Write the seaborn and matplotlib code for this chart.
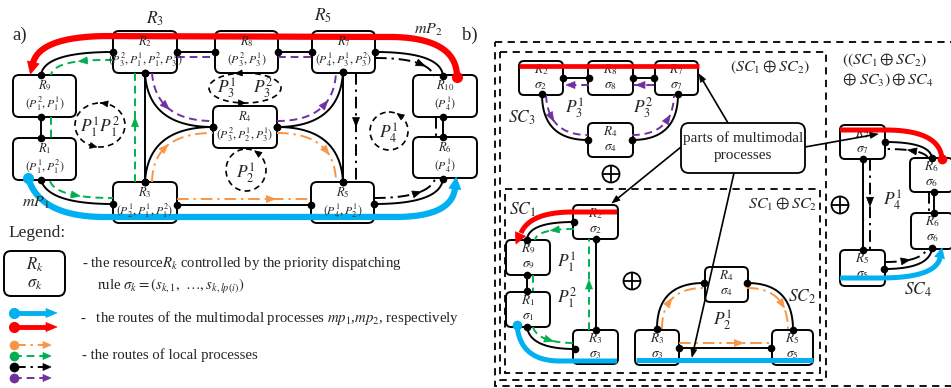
import numpy as np
import matplotlib
matplotlib.use("Agg")
import matplotlib.pyplot as plt
from matplotlib.patches import FancyBboxPatch, Polygon, Ellipse, Circle, Rectangle
import seaborn as sns

sns.set_theme(style="white")
plt.rcParams["font.family"] = ["Liberation Serif", "DejaVu Serif"]
plt.rcParams["mathtext.fontset"] = "stix"

# ---------------- content ----------------
# panel a): resources and their priority dispatching rules
a_resources = ["R_2", "R_8", "R_7", "R_9", "R_1", "R_4", "R_3", "R_5", "R_{10}", "R_6"]
a_rules = ["(P_3^2,P_1^1,P_1^2,P_3^1)", "(P_3^2,P_3^1)", "(P_4^1,P_3^1,P_3^2)",
           "(P_1^2,P_1^1)", "(P_1^1,P_1^2)", "(P_3^2,P_2^1,P_3^1)",
           "(P_2^1,P_1^1,P_1^2)", "(P_4^1,P_2^1)", "(P_4^1)", "(P_4^1)"]
a_processes = ["P_1^1P_1^2", "P_3^1", "P_3^2", "P_2^1", "P_4^1"]
a_titles = ["R_3", "R_5", "mP_2", "mP_1"]

# panel b): sub-systems and their resource indices
sc3_idx = ["2", "8", "7", "4"]
sc1_idx = ["2", "9", "1", "3"]
sc2_idx = ["3", "4", "5"]
sc4_idx = ["7", "6", "6", "5"]
b_labels = ["SC_3", "SC_1", "SC_2", "SC_4"]
b_compositions = [r"$(SC_1\oplus SC_2)$", r"$((SC_1\oplus SC_2)$", r"$\oplus\ SC_3)\oplus SC_4$",
                  r"$SC_1\oplus SC_2$"]
callout_text = ["parts of multimodal", "processes"]

legend_texts = [r"- the resource$R_k$ controlled by the priority dispatching",
                r"rule $\sigma_k=(s_{k,1},\ \ldots,s_{k,lp(i)})$",
                r"-   the routes of the multimodal processes $mp_1$,$mp_2$, respectively",
                r"- the routes of local processes"]

RED, BLUE, GREEN = "#ff0000", "#00b0f0", "#00b050"
ORANGE, PURPLE, BLACK = "#f79646", "#7030a0", "black"

# ---------------- layout (pixel space) ----------------
a_boxes = [(113, 31, 177, 73), (215, 31, 278, 73), (312, 31, 375, 73), (13, 75, 76, 117),
           (13, 138, 76, 180), (213, 106, 277, 148), (113, 182, 177, 223), (311, 182, 374, 223),
           (413, 75, 477, 117), (413, 137, 477, 178)]
sc3_boxes = [(519, 61, 563, 95), (588, 61, 633, 95), (655, 61, 698, 95), (588, 123, 633, 157)]
sc1_boxes = [(573, 205, 618, 239), (506, 240, 550, 275), (506, 292, 550, 327), (573, 330, 618, 364)]
sc2_boxes = [(635, 330, 679, 365), (705, 267, 748, 302), (772, 330, 813, 365)]
sc4_boxes = [(840, 125, 885, 159), (910, 158, 953, 192), (911, 213, 953, 249), (840, 250, 885, 286)]

fig = plt.figure(figsize=(9.51, 3.88), dpi=100)
ax = fig.add_axes([0, 0, 1, 1])

LW = 1.4
DASH = (0, (4, 2.5))
DASHDOT = (0, (6, 2.5, 1.2, 2.5))


def rbox(b, r=6, lw=LW, z=2):
    x0, y0, x1, y1 = b
    ax.add_patch(FancyBboxPatch((x0, y0), x1 - x0, y1 - y0,
                                boxstyle=f"round,pad=0,rounding_size={r}",
                                fc="white", ec="black", lw=lw, zorder=z))


def dot(*pts, color=BLACK, s=5.5, z=8):
    for p in pts:
        ax.plot(p[0], p[1], "o", color=color, ms=s, mew=0, zorder=z)


def bez(p0, c, p1, n=80):
    t = np.linspace(0, 1, n)[:, None]
    p0, c, p1 = (np.asarray(v, float) for v in (p0, c, p1))
    return (1 - t) ** 2 * p0 + 2 * (1 - t) * t * c + t ** 2 * p1


def head(tip, d, color, L=9, W=7, z=7):
    d = np.asarray(d, float)
    d = d / np.hypot(*d)
    n = np.array([-d[1], d[0]])
    tip = np.asarray(tip, float)
    base = tip - d * L
    ax.add_patch(Polygon([tip, base + n * W / 2, base - n * W / 2], closed=True,
                         fc=color, ec=color, lw=0.5, zorder=z))


def line(pts, color=BLACK, ls="-", lw=LW, z=3):
    pts = np.asarray(pts, float)
    ax.plot(pts[:, 0], pts[:, 1], color=color, ls=ls, lw=lw, zorder=z,
            solid_capstyle="butt", dash_capstyle="butt")


def mid_head(pts, frac, color, L=9, W=7, reverse=False):
    pts = np.asarray(pts, float)
    seg = np.diff(pts, axis=0)
    sl = np.hypot(seg[:, 0], seg[:, 1])
    cum = np.r_[0, np.cumsum(sl)]
    s = frac * cum[-1]
    i = int(np.clip(np.searchsorted(cum, s) - 1, 0, len(seg) - 1))
    d = seg[i] / sl[i]
    p = pts[i] + d * (s - cum[i])
    if reverse:
        d = -d
    head(p + d * L / 2, d, color, L, W)


def route(pts, color, lw, z=5):
    pts = np.asarray(pts, float)
    sns.lineplot(x=pts[:, 0], y=pts[:, 1], sort=False, estimator=None, color=color,
                 lw=lw, ax=ax, zorder=z, legend=False, solid_capstyle="butt")


def conn(p0, p1, c=None):
    pts = [p0, p1] if c is None else bez(p0, c, p1)
    line(pts)
    dot(p0, p1)


def txt(x, y, s, size, ha="center", va="center", z=4, **kw):
    ax.text(x, y, s, fontsize=size, ha=ha, va=va, zorder=z, **kw)


def oplus(x, y, r=8.5):
    ax.add_patch(Circle((x, y), r, fc="white", ec="black", lw=1.3, zorder=4))
    line([(x - r, y), (x + r, y)], lw=1.3, z=4)
    line([(x, y - r), (x, y + r)], lw=1.3, z=4)


def dashed_cycle(cx, cy, w, h, heads):
    ax.add_patch(Ellipse((cx, cy), w, h, fill=False, ec="black", lw=1.2, ls=(0, (3.5, 2.5)), zorder=3))
    for ang in heads:
        t = np.deg2rad(ang)
        p = (cx + w / 2 * np.cos(t), cy - h / 2 * np.sin(t))
        d = (-w / 2 * np.sin(t), -h / 2 * np.cos(t))
        head(np.asarray(p) + np.asarray(d) / np.hypot(*d) * 3.5, d, BLACK, L=7, W=6)


# ================= panel a) =================
txt(20, 35, "a)", 13.5)
txt(470, 35, "b)", 13.5)
txt(155, 19, f"${a_titles[0]}$", 12.5)
txt(323, 16, f"${a_titles[1]}$", 12.5)
txt(428, 30, f"${a_titles[2]}$", 11.5)
txt(36, 203, f"${a_titles[3]}$", 11.5, z=9)

for name, rule, b in zip(a_resources, a_rules, a_boxes):
    rbox(b)
    cx = (b[0] + b[2]) / 2
    txt(cx, b[1] + 11, f"${name}$", 9, z=6)
    txt(cx, b[1] + 28.5, f"${rule}$", 8.5, z=6)

# black resource links
conn((177, 52), (215, 52))
conn((278, 52), (312, 52))
conn((113, 52), (41, 75), (44, 52))
conn((375, 52), (443, 76), (441, 52))
conn((145, 73), (145, 182))
conn((145, 73), (213, 127), (148, 127))
conn((343, 72), (343, 182))
conn((343, 72), (277, 127), (340, 127))
conn((213, 127), (145, 182), (148, 127))
conn((277, 127), (343, 182), (340, 127))
conn((177, 205), (311, 205))
conn((41, 180), (113, 204), (48, 204))
conn((374, 204), (443, 179), (440, 204))
conn((41, 117), (41, 138))
conn((443, 117), (443, 137))

# green local routes (P1)
g1 = bez((50, 181), (56, 198), (113, 198))
line(g1, GREEN, DASH)
mid_head(g1, 0.45, GREEN)
g2 = [(135, 182), (135, 73)]
line(g2, GREEN, DASH)
mid_head(g2, 0.55, GREEN)
g3 = bez((113, 60), (54, 59), (51, 75))
line(g3, GREEN, DASH)
mid_head(g3, 0.45, GREEN)
line([(51, 117), (51, 138)], GREEN, DASH)

# purple local routes (P3)
line([(177, 57), (215, 57)], PURPLE, DASH)
line([(278, 57), (312, 57)], PURPLE, DASH)
p1 = bez((152, 73), (156, 121), (213, 121))
line(p1, PURPLE, DASH)
mid_head(p1, 0.42, PURPLE)
p2 = bez((277, 121), (334, 121), (336, 72))
line(p2, PURPLE, DASH)
mid_head(p2, 0.6, PURPLE)

# orange local routes (P2)
o1 = bez((152, 182), (153, 133), (213, 133))
line(o1, ORANGE, DASHDOT)
mid_head(o1, 0.42, ORANGE)
o2 = bez((277, 133), (335, 133), (336, 182))
line(o2, ORANGE, DASHDOT)
mid_head(o2, 0.62, ORANGE)
o3 = [(177, 199), (311, 199)]
line(o3, ORANGE, DASHDOT)
mid_head(o3, 0.7, ORANGE)

# black dash-dot local routes (P4)
k1 = bez((375, 58), (428, 58), (434, 76))
line(k1, BLACK, DASHDOT)
mid_head(k1, 0.72, BLACK)
k2 = [(356, 73), (356, 182)]
line(k2, BLACK, DASHDOT)
mid_head(k2, 0.45, BLACK)
k3 = bez((374, 198), (428, 198), (435, 179))
line(k3, BLACK, DASHDOT)
mid_head(k3, 0.65, BLACK)
line([(436, 117), (436, 137)], BLACK, DASHDOT)

# process cycles
dashed_cycle(100, 125, 50, 44, [80, 255])
txt(100, 127, f"${a_processes[0]}$", 12.5)
dashed_cycle(245, 88, 72, 30, [100, 265])
txt(227, 88, f"${a_processes[1]}$", 12.5)
txt(263, 88, f"${a_processes[2]}$", 12.5)
dashed_cycle(246, 170, 40, 42, [55])
txt(246, 173, f"${a_processes[3]}$", 12.5)
dashed_cycle(389, 131, 38, 38, [55])
txt(389, 133, f"${a_processes[4]}$", 12.5)

# multimodal routes
red_a = np.vstack([bez((457, 77), (457, 39), (395, 37)), [(110, 36)], bez((110, 36), (40, 36), (33, 63))])
route(red_a, RED, 4.5)
head((30.4, 74), (-0.24, 0.97), RED, L=12, W=12, z=6)
dot((457, 77), color=RED, s=8, z=6)
blue_a = np.vstack([bez((28, 178), (40, 217), (105, 217)), [(395, 217)], bez((395, 217), (452, 217), (455, 188))])
route(blue_a, BLUE, 4.5)
head((456.2, 177), (0.107, -0.994), BLUE, L=12, W=12, z=6)
dot((28, 178), color=BLUE, s=8, z=6)

# ================= legend =================
txt(8, 233, "Legend:", 12.5, ha="left")
rbox((4, 251, 65, 296), r=7)
txt(35, 265, "$R_k$", 12)
txt(35, 284, r"$\sigma_k$", 12)
txt(82, 263, legend_texts[0], 10.6, ha="left")
txt(97, 287, legend_texts[1], 10.6, ha="left")
txt(80, 318, legend_texts[2], 10.6, ha="left")
txt(82, 355, legend_texts[3], 10.6, ha="left")
for y, c in [(313, BLUE), (327, RED)]:
    line([(14, y), (47, y)], c, lw=3.5, z=5)
    head((57, y), (1, 0), c, L=11, W=9)
    dot((14, y), color=c, s=8)
for y, c, ls in [(345, ORANGE, DASHDOT), (356, GREEN, DASH), (367, BLACK, DASHDOT), (378, PURPLE, DASH)]:
    line([(14, y), (43, y)], c, ls, lw=1.4)
    head((51, y), (1, 0), c, L=8, W=7)
    dot((14, y), color=c, s=7)

# ================= panel b) =================
dash_box = dict(fill=False, ec="black", lw=1.3, ls=(0, (4, 3)), zorder=1)
ax.add_patch(Rectangle((495, 42), 470, 344, **dash_box))
ax.add_patch(Rectangle((500, 52), 326, 328, **dash_box))
ax.add_patch(Rectangle((505, 189), 315, 184, **dash_box))
txt(770, 67, b_compositions[0], 11.5)
txt(842, 60, b_compositions[1], 11.5, ha="left")
txt(842, 80, b_compositions[2], 11.5, ha="left")
txt(783, 204, b_compositions[3], 11.5)


def sbox(b, k):
    rbox(b, r=5)
    cx = (b[0] + b[2]) / 2
    txt(cx, b[1] + 9, f"$R_{{{k}}}$", 9.5)
    txt(cx, b[1] + 25, rf"$\sigma_{{{k}}}$", 9.5)


# SC3
for k, b in zip(sc3_idx, sc3_boxes):
    sbox(b, k)
conn((563, 78), (589, 78))
conn((633, 78), (654, 78))
line([(589, 85), (563, 85)], PURPLE, DASH)
head((566, 85), (-1, 0), PURPLE)
line([(654, 85), (633, 85)], PURPLE, DASH)
head((636, 85), (-1, 0), PURPLE)
conn((542, 94), (588, 140), (542, 140))
conn((632, 140), (678, 94), (678, 140))
s1 = bez((546, 95), (548, 135), (588, 135))
line(s1, PURPLE, DASH)
mid_head(s1, 0.35, PURPLE)
s2 = bez((632, 135), (673, 135), (674, 95))
line(s2, PURPLE, DASH)
mid_head(s2, 0.62, PURPLE)
route([(519, 66), (699, 66)], RED, 3.4)
txt(575, 108, "$P_3^1$", 12.5)
txt(643, 108, "$P_3^2$", 12.5)
txt(522, 118, f"${b_labels[0]}$", 12.5)
oplus(611, 174)

# SC1
for k, b in zip(sc1_idx, sc1_boxes):
    sbox(b, k)
conn((574, 222), (527, 240), (528, 222))
t1 = bez((574, 229), (537, 229), (535, 240))
line(t1, GREEN, DASH)
mid_head(t1, 0.45, GREEN)
conn((596, 239), (596, 330))
t2 = [(589, 330), (589, 239)]
line(t2, GREEN, DASH)
mid_head(t2, 0.5, GREEN)
conn((527, 275), (527, 291))
line([(533, 275), (533, 291)], GREEN, DASH)
conn((527, 327), (575, 349), (530, 349))
t3 = bez((533, 327), (538, 343), (575, 343))
line(t3, GREEN, DASH)
mid_head(t3, 0.45, GREEN)
red_b = np.vstack([[(617, 212)], bez((573, 212), (530, 212), (521, 233))])
route(red_b, RED, 3.6)
head((516, 244), (-0.4, 0.92), RED, L=11, W=11, z=6)
blue_b = np.vstack([bez((517, 325), (520, 361), (560, 361)), [(617, 361)]])
route(blue_b, BLUE, 3.6)
dot((517, 325), color=BLUE, s=7, z=6)
txt(567, 262, "$P_1^1$", 12.5)
txt(567, 298, "$P_1^2$", 12.5)
txt(523, 210, f"${b_labels[1]}$", 12.5)
oplus(632, 281)

# SC2
for k, b in zip(sc2_idx, sc2_boxes):
    sbox(b, k)
conn((657, 329), (704, 283), (657, 283))
conn((747, 283), (793, 330), (793, 283))
conn((679, 348), (771, 348))
u1 = bez((662, 329), (662, 288), (704, 288))
line(u1, ORANGE, DASHDOT)
mid_head(u1, 0.42, ORANGE)
u2 = bez((747, 288), (788, 288), (788, 330))
line(u2, ORANGE, DASHDOT)
mid_head(u2, 0.6, ORANGE)
u3 = [(679, 343), (771, 343)]
line(u3, ORANGE, DASHDOT)
mid_head(u3, 0.65, ORANGE)
route([(636, 360), (813, 360)], BLUE, 3.6)
txt(723, 320, "$P_2^1$", 12.5)
txt(802, 297, f"${b_labels[2]}$", 12.5)

# SC4
for k, b in zip(sc4_idx, sc4_boxes):
    sbox(b, k)
conn((885, 142), (932, 158), (930, 142))
v1 = bez((928, 158), (924, 149), (885, 149))
line(v1, BLACK, DASHDOT)
mid_head(v1, 0.4, BLACK)
conn((863, 159), (863, 250))
v2 = [(870, 159), (870, 250)]
line(v2, BLACK, DASHDOT)
mid_head(v2, 0.47, BLACK)
conn((934, 192), (934, 213))
line([(929, 192), (929, 213)], BLACK, DASHDOT)
conn((884, 269), (932, 248), (930, 269))
v3 = bez((885, 262), (921, 262), (927, 249))
line(v3, BLACK, DASHDOT)
mid_head(v3, 0.45, BLACK)
red_c = np.vstack([[(840, 130)], bez((885, 130), (940, 130), (942, 159))])
route(red_c, RED, 3.6)
dot((942, 159), color=RED, s=7, z=6)
blue_c = np.vstack([[(840, 278)], bez((880, 278), (935, 278), (940, 258))])
route(blue_c, BLUE, 3.6)
head((942, 248), (0.24, -0.97), BLUE, L=10, W=10, z=6)
txt(893, 200, "$P_4^1$", 12.5)
txt(918, 290, f"${b_labels[3]}$", 12.5)
oplus(840, 205)

# callout
ax.add_patch(FancyBboxPatch((681, 123), 124, 50, boxstyle="round,pad=0,rounding_size=8",
                            fc="white", ec="black", lw=1.3, zorder=6))
txt(743, 138, callout_text[0], 11, z=7)
txt(743, 156, callout_text[1], 11, z=7)
for a, b in [((728, 123), (699, 74)), ((681, 147), (612, 203)),
             ((734, 173), (692, 357)), ((805, 147), (878, 134))]:
    d = np.subtract(b, a)
    d = d / np.hypot(*d)
    line([a, np.asarray(b) - d * 7], lw=1.2, z=5)
    head(b, d, BLACK, L=8, W=6, z=7)

ax.set_xlim(0, 951)
ax.set_ylim(388, 0)
ax.axis("off")
fig.savefig("out.png", dpi=100, facecolor="white")
